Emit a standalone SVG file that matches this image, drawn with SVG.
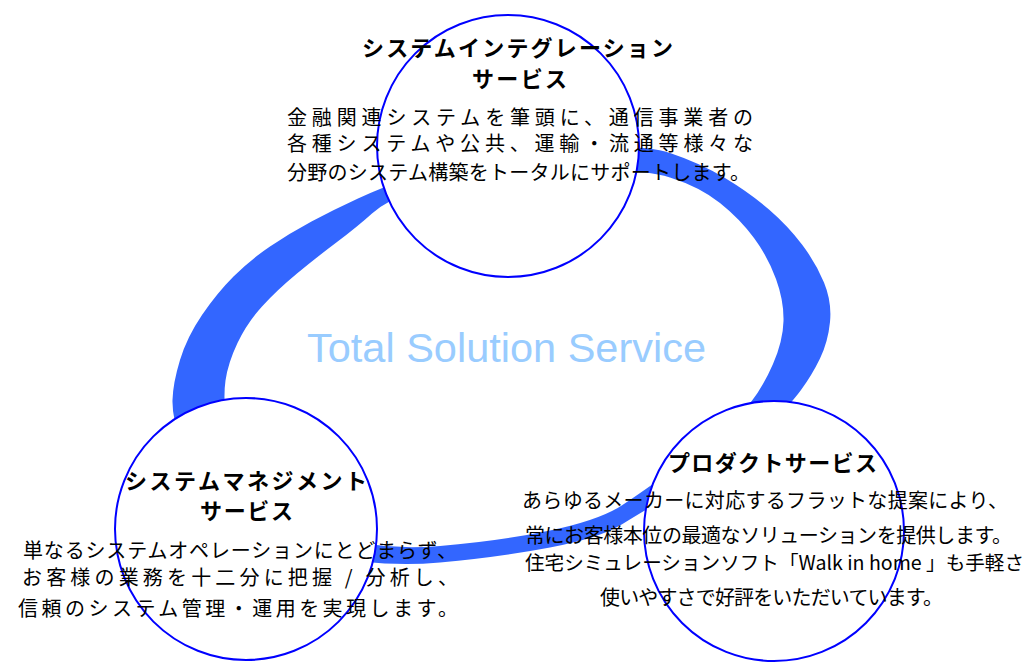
<svg xmlns="http://www.w3.org/2000/svg" width="1032" height="662" viewBox="0 0 1032 662">
<style>
.ring{fill:#3366FF;fill-rule:evenodd;stroke:none}
.node{fill:#FFFFFF;stroke:#0000FF;stroke-width:2}
.h{font-family:"Noto Sans CJK JP","Noto Sans",sans-serif;font-weight:bold;font-size:22px;fill:#000}
.b{font-family:"Noto Sans CJK JP","Noto Sans",sans-serif;font-size:20px;fill:#000}
.title{font-family:"Liberation Sans",Arial,sans-serif;font-size:41.5px;fill:#99CCFF}
</style>
<rect width="1032" height="662" fill="#FFFFFF"/>
<g id="connectors">
<path class="ring" d="M 470,159 Q 500,155 570,149 Q 640,143 670,153 Q 700,163 725,178 Q 750,193 769,209.5 Q 788,226 802,244.5 Q 816,263 824,282.5 Q 832,302 830,322 Q 828,342 820,358.5 Q 812,375 801,390 Q 790,405 765,430 Q 740,455 692.5,482.5 Q 645,510 622.5,524 Q 600,538 550,547.5 Q 500,557 440,562.5 Q 380,568 320,554 Q 260,540 225,505 Q 190,470 181,443.5 Q 172,417 172.5,400 Q 173,383 180,360 Q 187,337 202,315 Q 217,293 233.5,276.5 Q 250,260 270,246.5 Q 290,233 311.5,221.5 Q 333,210 358,198.5 Q 383,187 411.5,177 Q 440,167 470,159 Z
M 475,179 Q 510,175 575,171.5 Q 640,168 670,177.5 Q 700,187 720,203 Q 740,219 754,238 Q 768,257 776,279 Q 784,301 783.5,321 Q 783,341 773,364 Q 763,387 751,402 Q 739,417 705,448 Q 700,452 672.5,470 Q 645,490 622.5,505 Q 600,520 550,530.5 Q 500,541 440,546 Q 380,551 330,535.5 Q 280,520 255,485 Q 230,450 226.5,424 Q 223,398 225.5,380.5 Q 228,363 237.5,343 Q 247,323 262,306.5 Q 277,290 297,273.5 Q 317,257 337,242 Q 357,227 372,213.5 Q 387,200 413.5,191.5 Q 440,183 475,179 Z"/>
</g>
<text class="title" x="307" y="362">Total Solution Service</text>
<g id="node-si">
<circle class="node" cx="508" cy="146" r="131"/>
<text class="h" x="362" y="56" textLength="311" lengthAdjust="spacing">システムインテグレーション</text>
<text class="h" x="472" y="87" textLength="95" lengthAdjust="spacing">サービス</text>
<text class="b" x="287" y="125" textLength="466" lengthAdjust="spacing">金融関連システムを筆頭に、通信事業者の</text>
<text class="b" x="287" y="151" textLength="466" lengthAdjust="spacing">各種システムや公共、運輸・流通等様々な</text>
<text class="b" x="287" y="180" textLength="463" lengthAdjust="spacing">分野のシステム構築をトータルにサポートします。</text>
</g>
<g id="node-sm">
<circle class="node" cx="246" cy="529" r="131"/>
<text class="h" x="125" y="489" textLength="242" lengthAdjust="spacing">システムマネジメント</text>
<text class="h" x="200" y="519" textLength="93" lengthAdjust="spacing">サービス</text>
<text class="b" x="23" y="558" textLength="434" lengthAdjust="spacing">単なるシステムオペレーションにとどまらず、</text>
<text class="b" x="22" y="585" textLength="436" lengthAdjust="spacing">お客様の業務を十二分に把握 / 分析し、</text>
<text class="b" x="18" y="616" textLength="440" lengthAdjust="spacing">信頼のシステム管理・運用を実現します。</text>
</g>
<g id="node-ps">
<circle class="node" cx="774" cy="531" r="130"/>
<text class="h" x="668" y="471" textLength="209" lengthAdjust="spacing">プロダクトサービス</text>
<text class="b" x="522" y="508" textLength="486" lengthAdjust="spacing">あらゆるメーカーに対応するフラットな提案により、</text>
<text class="b" x="525" y="543" textLength="487" lengthAdjust="spacing">常にお客様本位の最適なソリューションを提供します。</text>
<text class="b" x="525" y="570" style="font-size:19.6px">住宅シミュレーションソフト「Walk in home 」も手軽さ</text>
<text class="b" x="600" y="605" textLength="343" lengthAdjust="spacing">使いやすさで好評をいただいています。</text>
</g>
</svg>
